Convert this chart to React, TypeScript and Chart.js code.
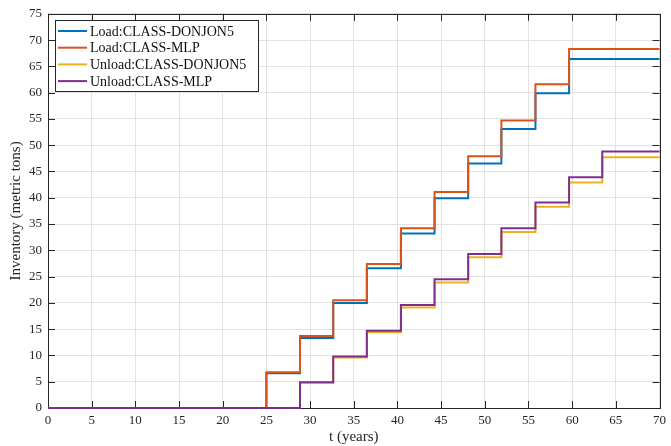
import React, { useEffect, useRef } from "react";
import { Chart, registerables } from "chart.js";

Chart.register(...registerables);

// Step times (years) at which each stair rises
const loadTimes = [0, 25, 28.85, 32.65, 36.5, 40.4, 44.25, 48.1, 51.9, 55.8, 59.65, 70];
const unloadTimes = [0, 28.85, 32.65, 36.5, 40.4, 44.25, 48.1, 51.9, 55.8, 59.65, 63.45, 70];

// Inventory levels (metric tons)
const loadDonjon = [0, 6.6, 13.3, 20.0, 26.6, 33.2, 39.9, 46.5, 53.1, 59.9, 66.4, 66.4];
const loadMLP = [0, 6.8, 13.7, 20.5, 27.4, 34.2, 41.1, 47.9, 54.7, 61.6, 68.3, 68.3];
const unloadDonjon = [0, 4.8, 9.6, 14.4, 19.1, 23.9, 28.7, 33.5, 38.3, 42.9, 47.7, 47.7];
const unloadMLP = [0, 4.9, 9.8, 14.7, 19.6, 24.5, 29.3, 34.2, 39.1, 43.9, 48.8, 48.8];

const seriesLabels = [
  "Load:CLASS-DONJON5",
  "Load:CLASS-MLP",
  "Unload:CLASS-DONJON5",
  "Unload:CLASS-MLP",
];
const seriesColors = ["#0072BD", "#D95319", "#EDB120", "#7E2F8E"];

const xTicks = [0, 5, 10, 15, 20, 25, 30, 35, 40, 45, 50, 55, 60, 65, 70];
const yTicks = [0, 5, 10, 15, 20, 25, 30, 35, 40, 45, 50, 55, 60, 65, 70, 75];

const FONT = "'Liberation Serif', 'DejaVu Serif', serif";

function pts(xs: number[], ys: number[]) {
  return xs.map((x, i) => ({ x, y: ys[i] }));
}

const frameAndLegend = {
  id: "frameAndLegend",
  beforeDatasetsDraw(chart: any) {
    const { ctx, chartArea: a, scales } = chart;
    ctx.save();
    // inward ticks
    ctx.strokeStyle = "#262626";
    ctx.lineWidth = 1;
    const tl = 7;
    ctx.beginPath();
    xTicks.forEach((v) => {
      const px = Math.round(scales.x.getPixelForValue(v)) + 0.5;
      ctx.moveTo(px, a.bottom);
      ctx.lineTo(px, a.bottom - tl);
      ctx.moveTo(px, a.top);
      ctx.lineTo(px, a.top + tl);
    });
    yTicks.forEach((v) => {
      const py = Math.round(scales.y.getPixelForValue(v)) + 0.5;
      ctx.moveTo(a.left, py);
      ctx.lineTo(a.left + tl, py);
      ctx.moveTo(a.right, py);
      ctx.lineTo(a.right - tl, py);
    });
    ctx.stroke();
    // frame
    ctx.strokeRect(Math.round(a.left) + 0.5, Math.round(a.top) + 0.5, Math.round(a.right - a.left), Math.round(a.bottom - a.top));
    ctx.restore();
  },
  afterDatasetsDraw(chart: any) {
    const { ctx } = chart;
    ctx.save();
    // legend
    const lx = 55.5, ly = 20.5, lw = 203, lh = 71;
    ctx.fillStyle = "#ffffff";
    ctx.fillRect(lx, ly, lw, lh);
    ctx.strokeStyle = "#262626";
    ctx.lineWidth = 1;
    ctx.strokeRect(lx, ly, lw, lh);
    ctx.font = `14px ${FONT}`;
    ctx.textBaseline = "middle";
    ctx.textAlign = "left";
    chart.data.datasets.forEach((ds: any, i: number) => {
      const y = 31 + i * 16.7;
      ctx.strokeStyle = ds.borderColor;
      ctx.lineWidth = 2;
      ctx.beginPath();
      ctx.moveTo(58, y);
      ctx.lineTo(87, y);
      ctx.stroke();
      ctx.fillStyle = "#111";
      ctx.fillText(ds.label, 90, y + 1);
    });
    ctx.restore();
  },
};

export default function App() {
  const ref = useRef<HTMLCanvasElement>(null);
  useEffect(() => {
    document.body.style.margin = "0";
    const chart = new Chart(ref.current!, {
      type: "line",
      data: {
        datasets: [
          { label: seriesLabels[0], data: pts(loadTimes, loadDonjon) },
          { label: seriesLabels[1], data: pts(loadTimes, loadMLP) },
          { label: seriesLabels[2], data: pts(unloadTimes, unloadDonjon) },
          { label: seriesLabels[3], data: pts(unloadTimes, unloadMLP) },
        ].map((d, i) => ({
          ...d,
          order: 3 - i,
          borderColor: seriesColors[i],
          backgroundColor: seriesColors[i],
          borderWidth: 2,
          pointRadius: 0,
          stepped: "before" as const,
          fill: false,
          clip: 4,
        })),
      },
      options: {
        animation: false,
        responsive: false,
        maintainAspectRatio: false,
        layout: { padding: { top: 13, right: 10, left: 0, bottom: 0 } },
        plugins: { legend: { display: false }, tooltip: { enabled: false } },
        scales: {
          x: {
            type: "linear",
            min: 0,
            max: 70,
            afterBuildTicks: (s: any) => {
              s.ticks = xTicks.map((v) => ({ value: v }));
            },
            afterFit: (s: any) => {
              s.height = 38;
            },
            grid: { color: "#e2e2e2", drawTicks: false, lineWidth: 1 },
            border: { display: false },
            ticks: { color: "#262626", font: { family: FONT, size: 13 }, padding: 5, maxRotation: 0 },
            title: { display: true, text: "t (years)", color: "#262626", font: { family: FONT, size: 15 }, padding: { top: 0, bottom: 0 } },
          },
          y: {
            type: "linear",
            min: 0,
            max: 75,
            afterBuildTicks: (s: any) => {
              s.ticks = yTicks.map((v) => ({ value: v }));
            },
            afterFit: (s: any) => {
              s.width = 48;
            },
            grid: { color: "#e2e2e2", drawTicks: false, lineWidth: 1 },
            border: { display: false },
            ticks: { color: "#262626", font: { family: FONT, size: 13 }, padding: 6 },
            title: { display: true, text: "Inventory (metric tons)", color: "#262626", font: { family: FONT, size: 15 }, padding: { top: 7, bottom: 0 } },
          },
        },
      },
      plugins: [frameAndLegend],
    });
    return () => chart.destroy();
  }, []);
  return (
    <div style={{ width: 671, height: 446, background: "#fff" }}>
      <canvas ref={ref} width={671} height={446} style={{ display: "block" }} />
    </div>
  );
}
